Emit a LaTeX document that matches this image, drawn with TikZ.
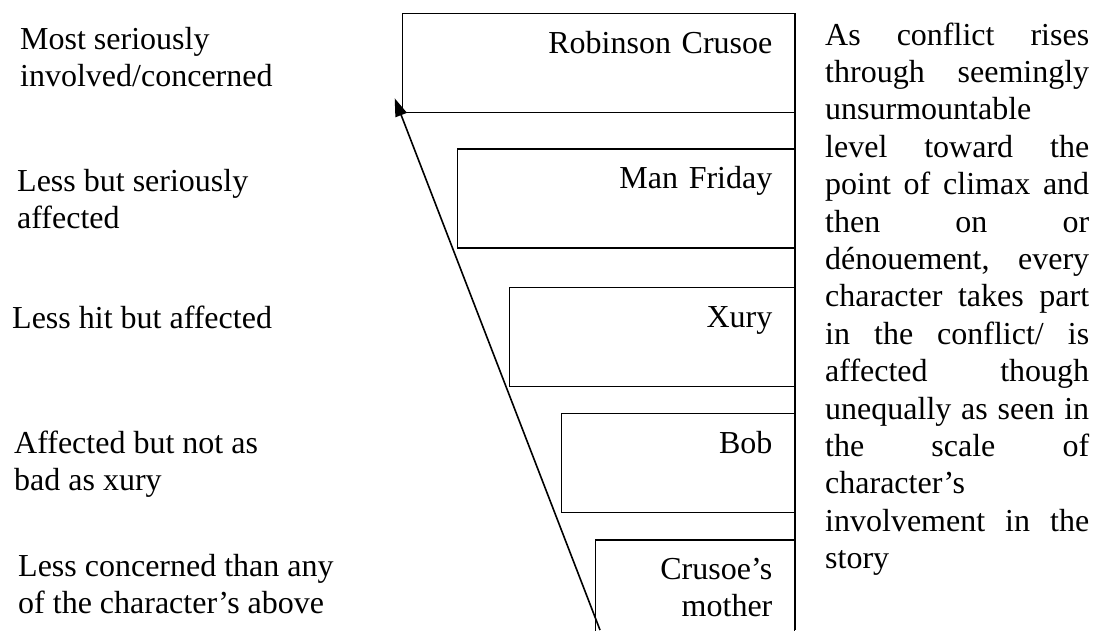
\documentclass[tikz,border=0pt]{standalone}
\usepackage{fontspec}
\setmainfont{Liberation Serif}
\usepackage{tikz}
\usetikzlibrary{shapes,arrows.meta,positioning}
\tikzstyle{charbox} = [draw, rectangle, line width=1.3pt, inner xsep=22pt, inner ysep=0pt,
  align=right, text height=40pt, text depth=59pt, font=\fontsize{32}{36.5}\selectfont]
\tikzstyle{rowlabel} = [anchor=base west, inner sep=0pt, align=left, font=\fontsize{32}{36.5}\selectfont]
\tikzstyle{scalearrow} = [line width=1.6pt, -{Stealth[length=18pt,width=12pt,inset=0pt]}]

\begin{document}
\begin{tikzpicture}[x=1pt,y=-1pt]
        \useasboundingbox (0,0) rectangle (1099,630);

        % Define nodes
        \node[charbox,
        anchor=north east,
        text width=348pt] (crusoe) at (795,13) {Robinson Crusoe};

        \node[charbox,
        below=35pt of crusoe.south east,
        anchor=north east,
        text width=293pt] (friday) {Man Friday};

        \node[charbox,
        below=38pt of friday.south east,
        anchor=north east,
        text width=241pt] (xury) {Xury};

        \node[charbox,
        below=26pt of xury.south east,
        anchor=north east,
        text width=189pt] (bob) {Bob};

        \node[charbox,
        below=26pt of bob.south east,
        anchor=north east,
        text width=155pt] (mother) {Crusoe’s\\ mother};

        % labels on the left (base = last line)
        \node[rowlabel] (most) at (20,86) {Most seriously\\ involved/concerned};
        \node[rowlabel] (less) at (17,228) {Less but seriously\\ affected};
        \node[rowlabel] (hit) at (12,328) {Less hit but affected};
        \node[rowlabel] (notbad) at (14,490) {Affected but not as\\ bad as xury};
        \node[rowlabel] (least) at (18,613) {Less concerned than any\\ of the character’s above};

        % text on the right
        \node[anchor=base west,
        inner sep=0pt,
        text width=264pt,
        align=justify,
        font=\fontsize{32}{37.4}\selectfont] (story) at (825,45) {\tolerance=10000\hbadness=10000
        As conflict rises\linebreak
        through seemingly\linebreak
        unsurmountable\linebreak
        level toward the\linebreak
        point of climax and\linebreak
        then on or\linebreak
        dénouement, every\linebreak
        character takes part\linebreak
        in the conflict/ is\linebreak
        affected though\linebreak
        unequally as seen in\linebreak
        the scale of\linebreak
        character’s\linebreak
        involvement in the\linebreak
        story};

        \coordinate (axisfoot) at (795,630);
        \coordinate (scalefoot) at (600,630);

        \draw[line width=1.6pt] (crusoe.north east) -- (crusoe.north east |- axisfoot);
        \draw[scalearrow] (scalefoot) -- ([shift={(-7,-15)}]crusoe.south west);

\end{tikzpicture}
\end{document}
